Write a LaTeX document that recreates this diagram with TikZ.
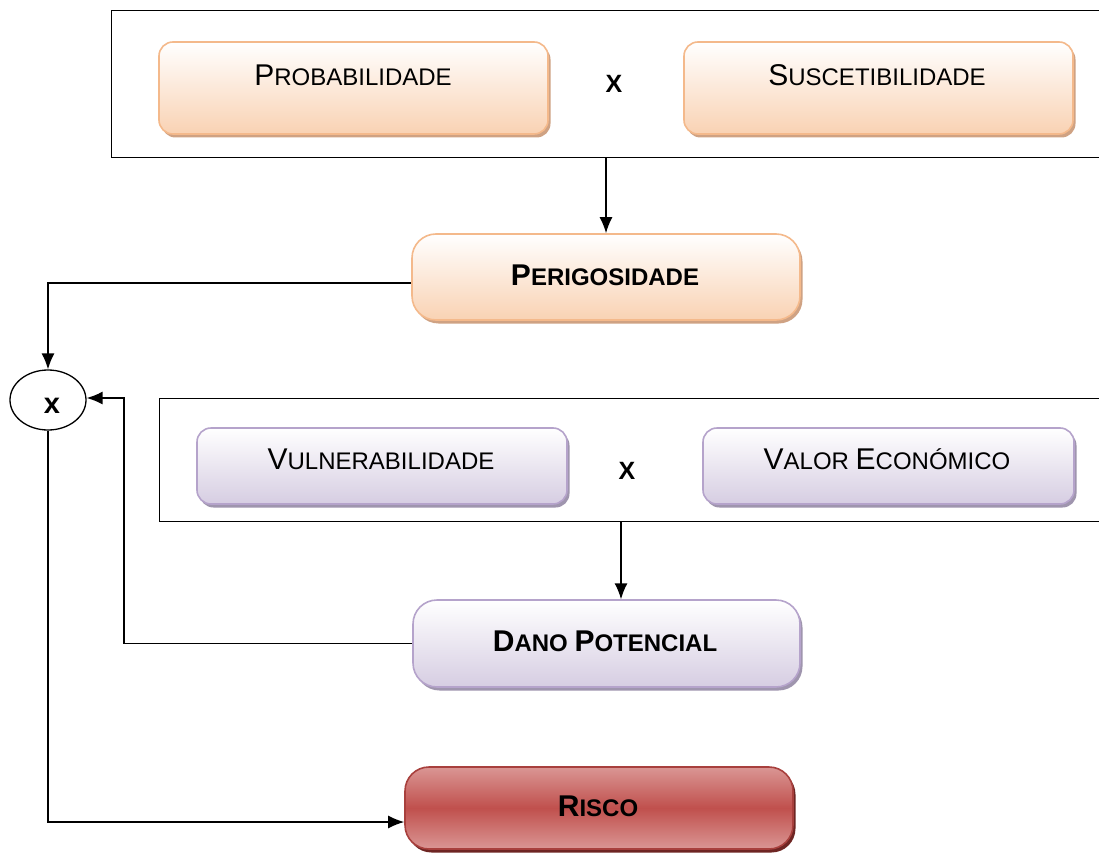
\documentclass[tikz,border=0pt]{standalone}
\usepackage{fontspec}
\setmainfont{Liberation Sans}
\usetikzlibrary{shadows,shapes.geometric,arrows.meta}
\newcommand{\scap}[2]{{\fontsize{30}{30}\selectfont #1}{\fontsize{24}{24}\selectfont #2}}
\definecolor{orbord}{HTML}{F4B98B}
\definecolor{orfill}{HTML}{F9D2B3}
\definecolor{orshad}{HTML}{CFA283}
\definecolor{pubord}{HTML}{B5A3CB}
\definecolor{pufill}{HTML}{D6CDE2}
\definecolor{pushad}{HTML}{9F95AE}
\definecolor{rebord}{HTML}{A8403D}
\definecolor{remid}{HTML}{C0504D}
\definecolor{relight}{HTML}{DA9694}
\definecolor{reshad}{HTML}{6E2523}
\tikzset{
  box/.style={rounded corners=14pt, line width=1.6pt, inner sep=0pt, text=black},
  orbox/.style={box, draw=orbord, top color=white, bottom color=orfill,
     drop shadow={shadow xshift=2.5pt, shadow yshift=-3.5pt, fill=orshad, opacity=1}},
  pubox/.style={box, draw=pubord, top color=white, bottom color=pufill,
     drop shadow={shadow xshift=2.5pt, shadow yshift=-3.5pt, fill=pushad, opacity=1}},
  rebox/.style={box, draw=rebord, top color=relight, bottom color=relight, middle color=remid,
     drop shadow={shadow xshift=2.5pt, shadow yshift=-3.5pt, fill=reshad, opacity=1}},
  frame/.style={draw=black, line width=1.3pt, inner sep=0pt},
  conn/.style={draw=black, line width=1.4pt, -{Latex[length=16pt,width=13pt]}},
  mult/.style={font=\fontsize{25}{25}\selectfont\bfseries},
  lbl/.style={inner sep=0pt},
}
\begin{document}
\begin{tikzpicture}[x=1pt,y=-1pt]
\clip (0,0) rectangle (1099,853);
\fill[white] (0,0) rectangle (1099,853);
% frames
\node[frame, minimum width=1000pt, minimum height=147pt, anchor=north west] (topframe) at (111,10) {};
\node[frame, minimum width=952pt, minimum height=123pt, anchor=north west] (midframe) at (159,398) {};
% top boxes
\node[orbox, minimum width=389pt, minimum height=92pt] (prob) at (353.5,88) {};
\node[lbl] (probt) at (353,75) {\scap{P}{ROBABILIDADE}};
\node[orbox, minimum width=389pt, minimum height=92pt] (susc) at (878.5,88) {};
\node[lbl] (susct) at (877,75) {\scap{S}{USCETIBILIDADE}};
\node[mult] (x1) at (614,84) {X};
% perigosidade
\node[orbox, rounded corners=24pt, minimum width=388pt, minimum height=86pt] (perig) at (606,277) {};
\node[lbl] (perigt) at (605,275) {\bfseries\scap{P}{ERIGOSIDADE}};
% middle boxes
\node[pubox, minimum width=370pt, minimum height=76pt] (vuln) at (382,466) {};
\node[lbl] (vulnt) at (381,459) {\scap{V}{ULNERABILIDADE}};
\node[pubox, minimum width=371pt, minimum height=76pt] (valor) at (888.5,466) {};
\node[lbl] (valort) at (887,459) {\scap{V}{ALOR }\scap{E}{CONÓMICO}};
\node[mult] (x2) at (627,471) {X};
% dano
\node[pubox, rounded corners=24pt, minimum width=387pt, minimum height=87pt] (dano) at (606.5,643.5) {};
\node[lbl] (danot) at (605,641) {\bfseries\scap{D}{ANO }\scap{P}{OTENCIAL}};
% risco
\node[rebox, rounded corners=24pt, minimum width=388pt, minimum height=82pt] (risco) at (599,808) {};
\node[lbl] (riscot) at (598,806) {\bfseries\scap{R}{ISCO}};
% circle
\node[draw=black, line width=1.3pt, ellipse, minimum width=76pt, minimum height=60pt, inner sep=0pt, fill=white] (circ) at (48,400) {};
\node[font=\fontsize{29}{29}\selectfont\bfseries] (cx) at (52,406) {x};
% connectors
\coordinate (bend) at (124,398);
\draw[conn] (perig.north |- topframe.south) -- (perig.north);
\draw[conn] (dano.north |- midframe.south) ++(14.5,0) -- ++(0,77);
\draw[conn] ([yshift=-6pt]perig.west) -| (circ.north);
\draw[conn] (dano.west) -| (bend) -- (bend -| circ.east);
\draw[conn] (circ.south) |- ([yshift=-14pt]risco.west);
\end{tikzpicture}
\end{document}
